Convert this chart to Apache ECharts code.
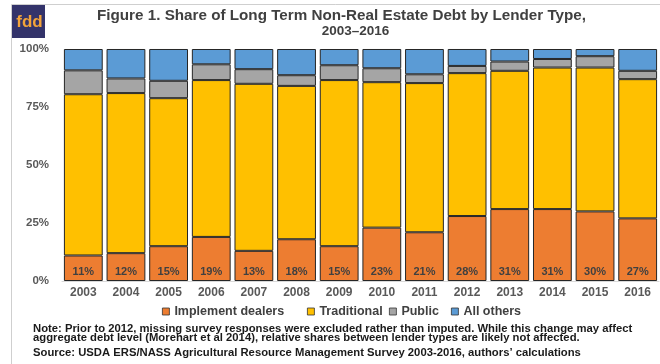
<!DOCTYPE html>
<html>
<head>
<meta charset="utf-8">
<script src="https://cdn.jsdelivr.net/npm/echarts@6/dist/echarts.min.js"></script>
<style>
  html, body { margin: 0; padding: 0; background: #fff; }
  #chart { width: 660px; height: 364px; }
</style>
</head>
<body>
<div id="chart"></div>
<script>
// Lender shares of long term non-real estate debt, percent of total
const years = ['2003','2004','2005','2006','2007','2008','2009','2010','2011','2012','2013','2014','2015','2016'];
const implementDealers = [11, 12, 15, 19, 13, 18, 15, 23, 21, 28, 31, 31, 30, 27];
const traditional = [69.5, 69.0, 63.8, 67.6, 72.0, 66.1, 71.6, 62.7, 64.3, 61.6, 59.6, 61.0, 62.0, 60.0];
const publicLenders = [10.3, 6.3, 7.5, 6.8, 6.3, 4.6, 6.4, 6.0, 3.8, 3.1, 4.0, 3.7, 4.9, 3.6];
const allOthers = [9.2, 12.7, 13.7, 6.6, 8.7, 11.3, 7.0, 8.3, 10.9, 7.3, 5.4, 4.3, 3.1, 9.4];
const yTicks = [0, 25, 50, 75, 100];

const seriesNames = ['Implement dealers', 'Traditional', 'Public', 'All others'];
const seriesColors = ['#ED7D31', '#FFC000', '#A5A5A5', '#5B9BD5'];
const seriesData = [implementDealers, traditional, publicLenders, allOthers];

const FONT = '"Liberation Sans", Arial, sans-serif';

const chart = echarts.init(document.getElementById('chart'), null, { renderer: 'canvas' });

// one legend block per series so each entry sits in its own slot
const legendLeft = [162, 307, 389, 451];
const legends = seriesNames.map((name, i) => ({
  data: [name],
  left: legendLeft[i],
  top: 305,
  padding: 0,
  itemWidth: 7,
  itemHeight: 7,
  icon: 'rect',
  itemStyle: { borderColor: '#333', borderWidth: 0.8 },
  textStyle: { fontFamily: FONT, fontWeight: 'bold', fontSize: 12.5, color: '#404040' },
  selectedMode: false
}));

const noteStyle = { fill: '#1a1a1a', font: 'bold 10px ' + FONT };
const noteLine = (text, top) => ({
  type: 'text', x: 33, y: top, scaleX: 1.128,
  style: Object.assign({ text }, noteStyle)
});

const option = {
  animation: false,
  backgroundColor: '#fff',
  legend: legends,
  grid: { left: 62, right: 1, top: 49, bottom: 83, containLabel: false },
  xAxis: {
    type: 'category',
    data: years,
    axisTick: { show: false },
    axisLine: { show: true, lineStyle: { color: '#d9d9d9' } },
    axisLabel: { fontFamily: FONT, fontWeight: 'bold', fontSize: 12, color: '#595959', margin: 6 }
  },
  yAxis: {
    type: 'value',
    min: yTicks[0],
    max: yTicks[yTicks.length - 1],
    interval: yTicks[1] - yTicks[0],
    splitLine: { show: false },
    axisLine: { show: false },
    axisTick: { show: false },
    axisLabel: { formatter: '{value}%', fontFamily: FONT, fontWeight: 'bold', fontSize: 11.5, color: '#595959', margin: 13 }
  },
  series: seriesNames.map((name, i) => ({
    name,
    type: 'bar',
    stack: 'share',
    barCategoryGap: '9%',
    data: seriesData[i],
    itemStyle: { color: seriesColors[i], borderColor: '#262626', borderWidth: 1 },
    label: i === 0 ? {
      show: true,
      position: 'insideBottom',
      distance: 4,
      formatter: '{c}%',
      fontFamily: FONT, fontWeight: 'bold', fontSize: 11, color: '#404040'
    } : { show: false }
  })),
  graphic: [
    // frame lines
    { type: 'line', shape: { x1: 11.5, y1: 4.5, x2: 660, y2: 4.5 }, style: { stroke: '#cfcfcf', lineWidth: 1 } },
    { type: 'line', shape: { x1: 11.5, y1: 4.5, x2: 11.5, y2: 364 }, style: { stroke: '#cfcfcf', lineWidth: 1 } },
    // logo
    { type: 'rect', shape: { x: 12, y: 5, width: 33, height: 33 }, style: { fill: '#33336a' } },
    { type: 'text', x: 29.5, y: 22, style: { text: 'fdd', fill: '#F2A33A', font: 'bold 17px ' + FONT, textAlign: 'center', textVerticalAlign: 'middle' } },
    // chart title, two lines
    { type: 'text', x: 341.5, y: 16, scaleX: 1.087,
      style: { text: 'Figure 1. Share of Long Term Non-Real Estate Debt by Lender Type,', fill: '#404040', font: 'bold 14px ' + FONT, textAlign: 'center', textVerticalAlign: 'middle' } },
    { type: 'text', x: 355.5, y: 31,
      style: { text: '2003\u20132016', fill: '#404040', font: 'bold 13.5px ' + FONT, textAlign: 'center', textVerticalAlign: 'middle' } },
    // notes
    noteLine('Note: Prior to 2012, missing survey responses were excluded rather than imputed. While this change may affect', 324.5),
    noteLine('aggregate debt level (Morehart et al 2014), relative shares between lender types are likely not affected.', 333.5),
    noteLine('Source: USDA ERS/NASS Agricultural Resource Management Survey 2003-2016, authors\u2019 calculations', 348.5)
  ]
};

chart.setOption(option);
</script>
</body>
</html>
